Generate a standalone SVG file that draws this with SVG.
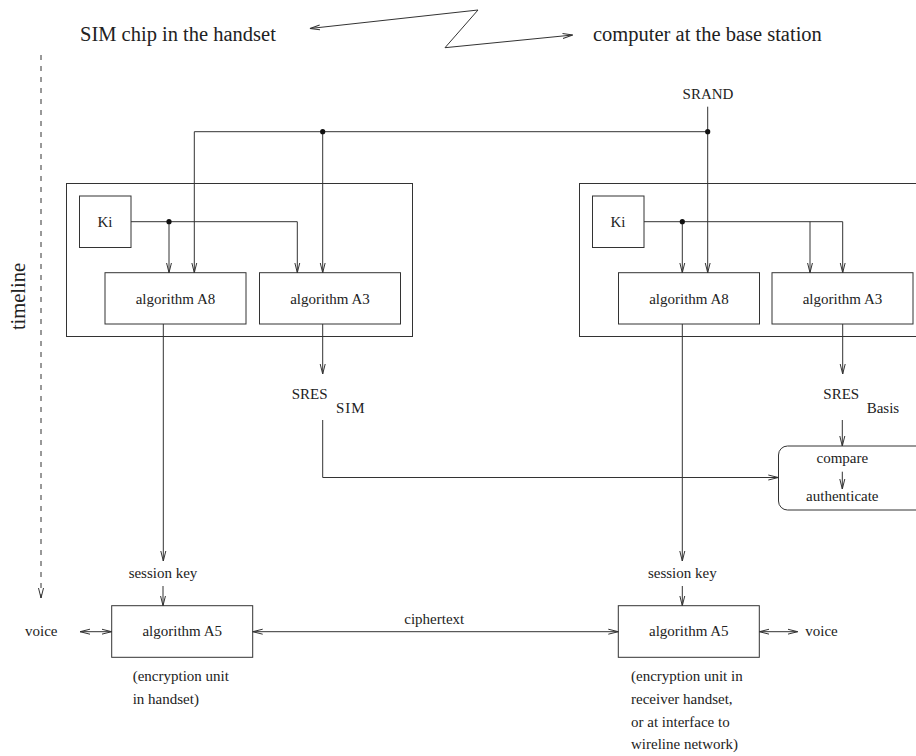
<svg xmlns="http://www.w3.org/2000/svg" width="916" height="756" viewBox="0 0 916 756">
<style>
text{font-family:"Liberation Serif","Times New Roman",serif;fill:#222;font-size:15px}
.big{font-size:20.5px}
.mid{text-anchor:middle}
.box{fill:none;stroke:#333;stroke-width:1}
.ln{fill:none;stroke:#333;stroke-width:1}
.ar{marker-end:url(#ah)}
.ar2{marker-start:url(#ah);marker-end:url(#ah)}
.dot{fill:#111}
</style>
<defs>
<marker id="ah" markerWidth="11" markerHeight="7" refX="10" refY="3.5" orient="auto-start-reverse" markerUnits="userSpaceOnUse">
<path d="M0,1 L10,3.5 L0,6" fill="none" stroke="#333" stroke-width="1"/>
</marker>
</defs>

<g id="header">
<text class="big" x="80" y="40.7">SIM chip in the handset</text>
<text class="big" x="593" y="40.7">computer at the base station</text>
</g>
<g id="timeline">
<text class="big mid" transform="translate(25,296.5) rotate(-90)">timeline</text>
</g>

<g id="sim-box"><rect class="box" x="66.5" y="183.5" width="346" height="153"/></g>
<g id="sim-ki"><rect class="box" x="79.5" y="196" width="51.5" height="51.5"/><text class="mid" x="105" y="226.7">Ki</text></g>
<g id="sim-a8"><rect class="box" x="105" y="272.7" width="141" height="51.3"/><text class="mid" x="175.5" y="303.5">algorithm A8</text></g>
<g id="sim-a3"><rect class="box" x="259.5" y="272.7" width="141" height="51.3"/><text class="mid" x="330" y="303.5">algorithm A3</text></g>

<g id="base-box"><rect class="box" x="579.5" y="183.5" width="360" height="153"/></g>
<g id="base-ki"><rect class="box" x="592.5" y="196" width="51.5" height="51.5"/><text class="mid" x="618" y="226.7">Ki</text></g>
<g id="base-a8"><rect class="box" x="618.5" y="272.7" width="141" height="51.3"/><text class="mid" x="689" y="303.5">algorithm A8</text></g>
<g id="base-a3"><rect class="box" x="772" y="272.7" width="141" height="51.3"/><text class="mid" x="842.5" y="303.5">algorithm A3</text></g>

<g id="srand"><text class="mid" x="708" y="99.3">SRAND</text></g>
<g id="sres-sim"><text x="291.7" y="399.3">SRES</text><text x="336" y="412.7" letter-spacing="1">SIM</text></g>
<g id="sres-basis"><text x="823.3" y="399.3">SRES</text><text x="866.7" y="412.7">Basis</text></g>
<g id="compare"><rect class="box" x="778.5" y="446" width="160" height="64" rx="9"/><text class="mid" x="842.3" y="463.3">compare</text><text class="mid" x="842.3" y="500.7">authenticate</text></g>

<g id="sim-session-key"><text class="mid" x="163" y="578">session key</text></g>
<g id="base-session-key"><text class="mid" x="682.3" y="578">session key</text></g>
<g id="sim-a5"><rect class="box" x="111.7" y="605.7" width="141" height="51.6"/><text class="mid" x="182.2" y="636">algorithm A5</text></g>
<g id="base-a5"><rect class="box" x="618.3" y="605.7" width="141" height="51.6"/><text class="mid" x="688.8" y="636">algorithm A5</text></g>
<g id="voice-left"><text x="25" y="636">voice</text></g>
<g id="voice-right"><text x="805.3" y="636">voice</text></g>
<g id="ciphertext"><text x="404.3" y="624">ciphertext</text></g>
<g id="sim-note"><text x="132.7" y="681">(encryption unit</text><text x="132.7" y="704.3">in handset)</text></g>
<g id="base-note"><text x="631" y="681">(encryption unit in</text><text x="631" y="704">receiver handset,</text><text x="631" y="726.7">or at interface to</text><text x="631" y="749.3">wireline network)</text></g>

<g id="connectors">
<path class="ln ar2" d="M310,28.5 L478,10 L445,47.7 L572.7,35"/>
<path class="ln ar" d="M41,55 V598" stroke-dasharray="5 6"/>
<path class="ln ar" d="M707.7,106.7 V272.7"/>
<path class="ln ar" d="M707.7,131.7 H194.3 V272.7"/>
<path class="ln ar" d="M322.7,131.7 V272.7"/>
<circle class="dot" cx="322.7" cy="131.7" r="2.6"/>
<circle class="dot" cx="707.7" cy="131.7" r="2.6"/>
<path class="ln ar" d="M131,221.7 H297.3 V272.7"/>
<path class="ln ar" d="M169,221.7 V272.7"/>
<circle class="dot" cx="169" cy="221.7" r="2.6"/>
<path class="ln ar" d="M644,221.7 H842.7 V272.7"/>
<path class="ln ar" d="M682.3,221.7 V272.7"/>
<path class="ln ar" d="M810,221.7 V272.7"/>
<circle class="dot" cx="682.3" cy="221.7" r="2.6"/>
<path class="ln ar" d="M163.3,324 V561"/>
<path class="ln ar" d="M322.7,324 V374"/>
<path class="ln ar" d="M682.3,324 V561"/>
<path class="ln ar" d="M842.7,324 V374"/>
<path class="ln ar" d="M322.7,420 V477.5 H778.3"/>
<path class="ln ar" d="M842.3,420 V446"/>
<path class="ln ar" d="M842.3,471.7 V489"/>
<path class="ln ar" d="M163,586 V605.7"/>
<path class="ln ar" d="M682.3,586 V605.7"/>
<path class="ln ar2" d="M252.7,631.7 H618.3"/>
<path class="ln ar2" d="M80,631.7 H111.7"/>
<path class="ln ar2" d="M759.3,631.7 H797.7"/>
</g>
</svg>
